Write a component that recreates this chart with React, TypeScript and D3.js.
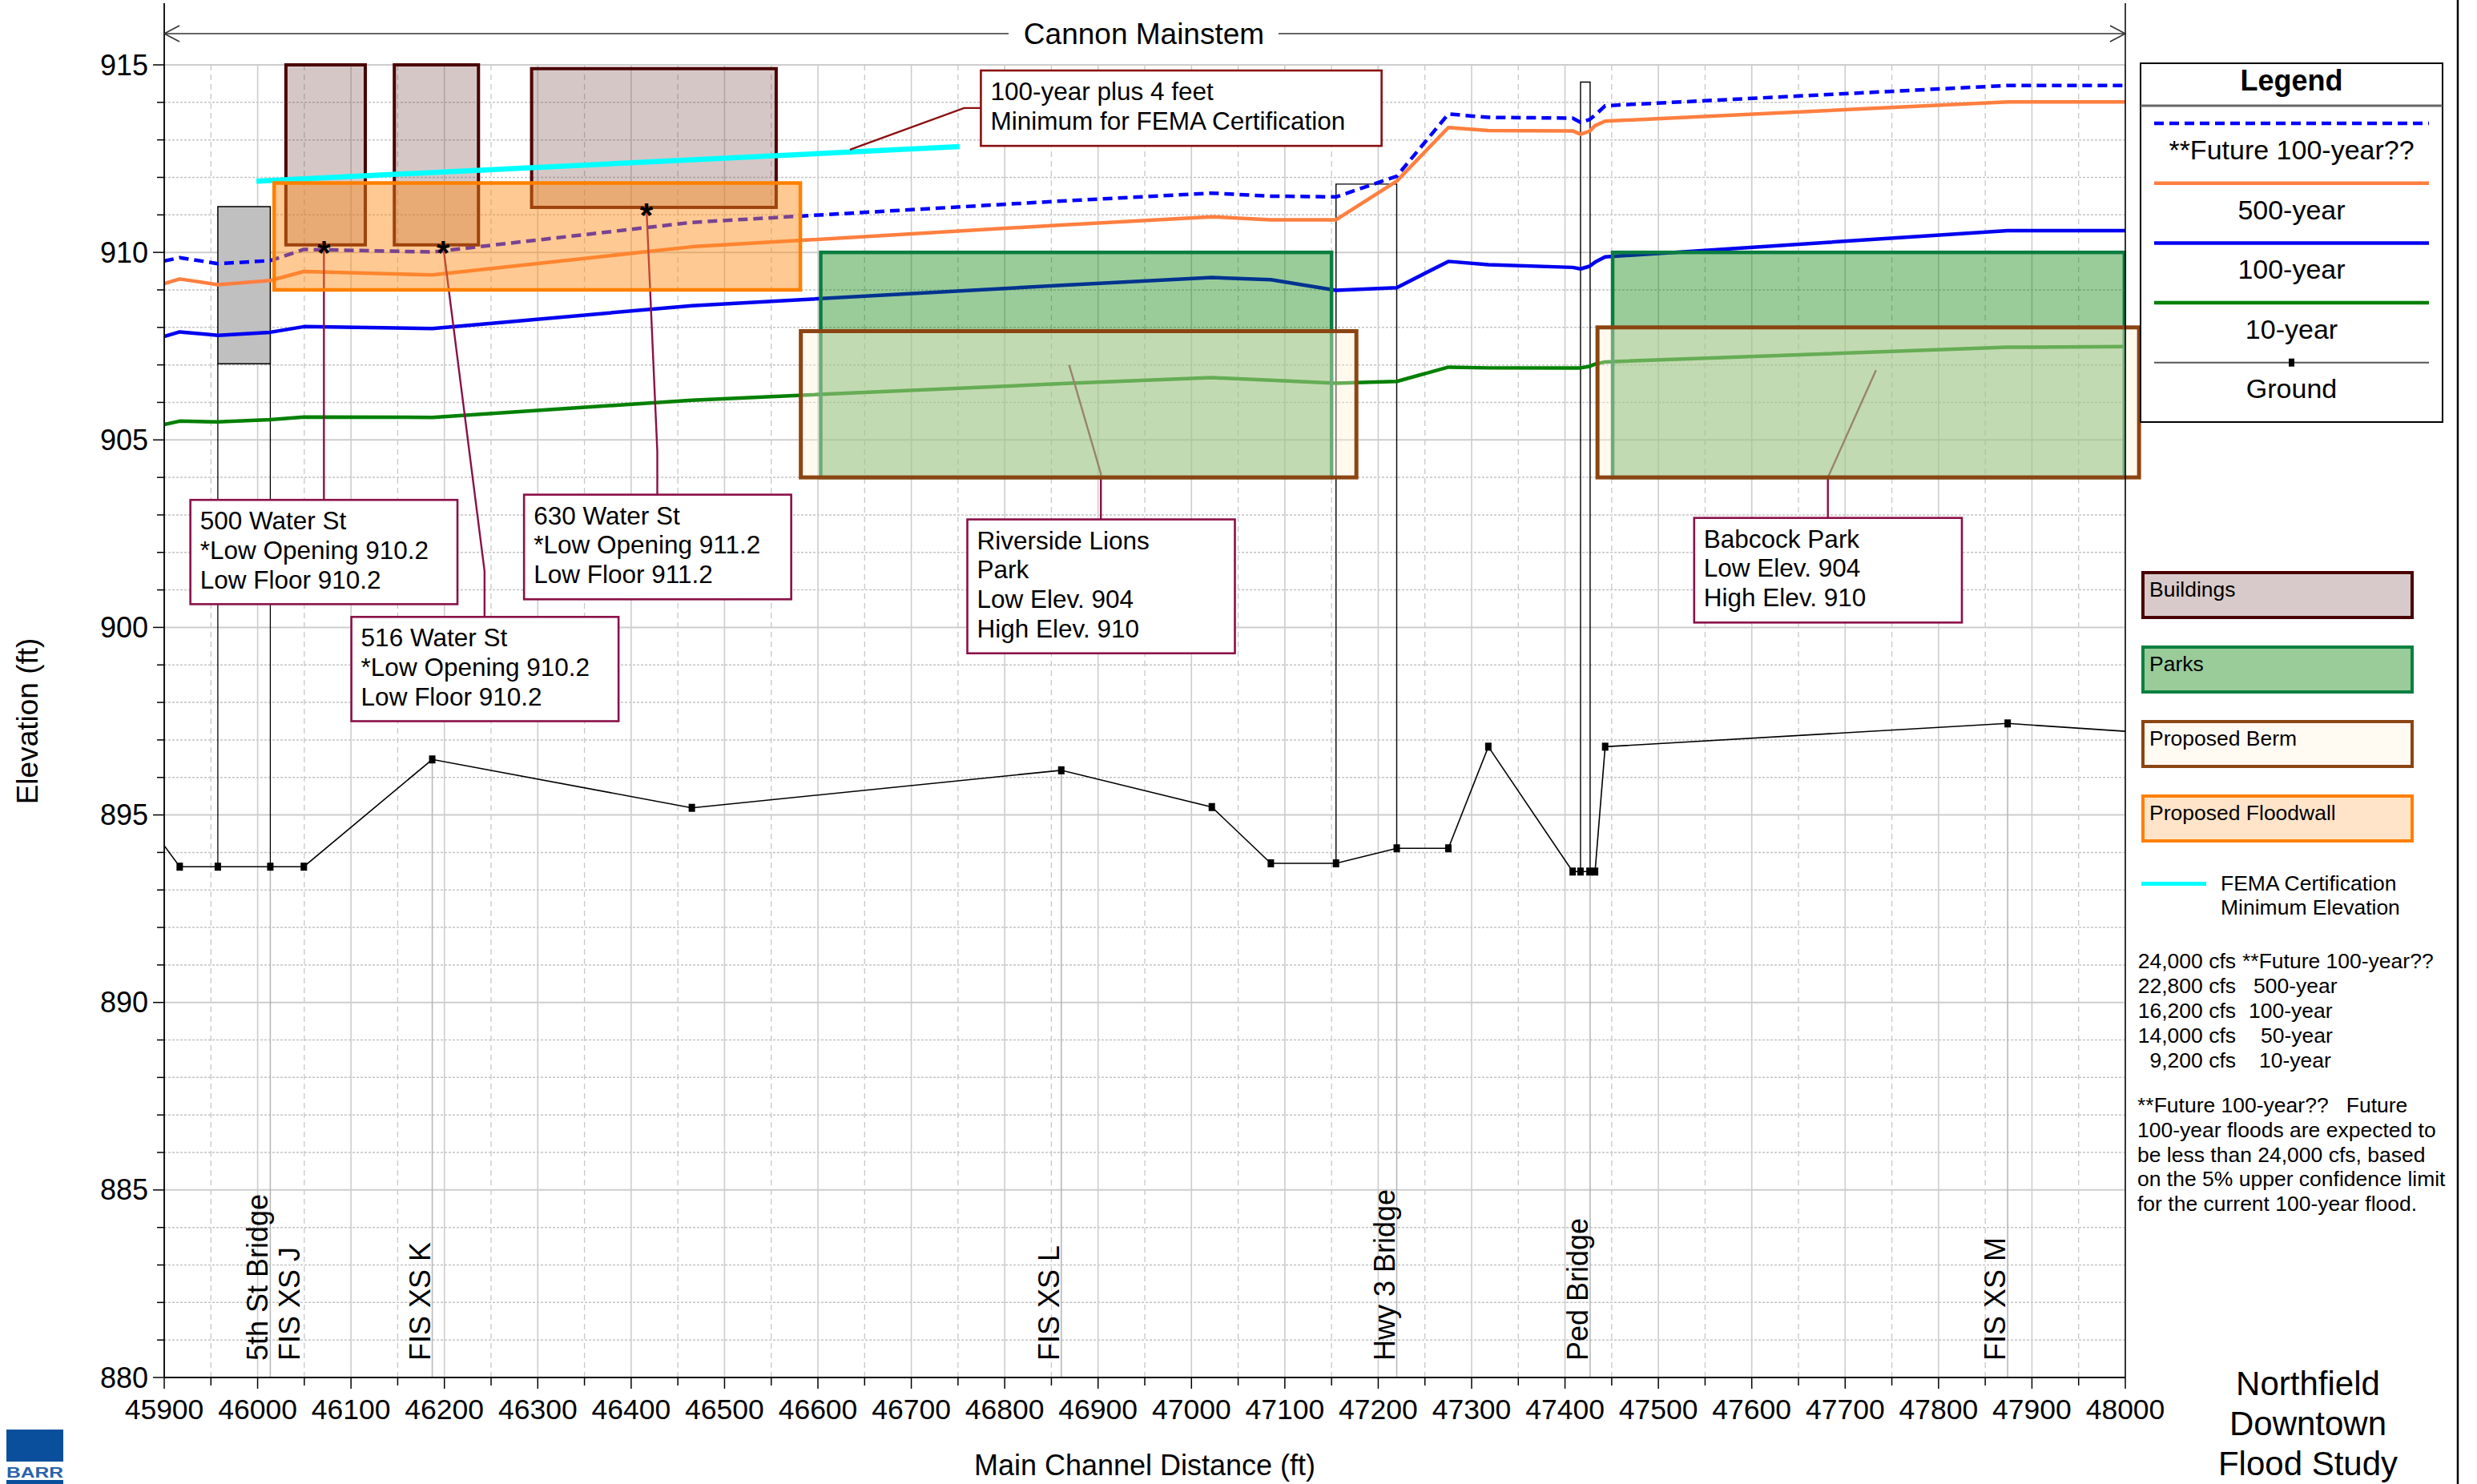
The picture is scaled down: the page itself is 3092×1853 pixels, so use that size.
import React from "react";
import * as d3 from "d3";

// ---- Profile data: river stations (ft) and water-surface / ground elevations (ft) ----
const stations = [45900, 45916.6, 45957.4, 46013.6, 46049.5, 46187, 46465, 46860.6, 47021.8, 47085, 47154.8, 47219.8, 47275.1, 47317.9, 47408.2, 47416.6, 47426.2, 47432.2, 47443, 47874, 48000];
const groundElev = [894.18, 893.62, 893.62, 893.62, 893.62, 896.48, 895.19, 896.19, 895.21, 893.71, 893.71, 894.11, 894.11, 896.82, 893.49, 893.49, 893.49, 893.49, 896.82, 897.44, 897.23];
const future100 = [909.77, 909.86, 909.7, 909.78, 910.08, 910.01, 910.8, 911.37, 911.58, 911.5, 911.48, 912.03, 913.69, 913.6, 913.58, 913.47, 913.54, 913.66, 913.91, 914.45, 914.45];
const year500 = [909.17, 909.29, 909.14, 909.25, 909.49, 909.4, 910.15, 910.73, 910.95, 910.87, 910.87, 911.9, 913.33, 913.25, 913.24, 913.15, 913.23, 913.38, 913.5, 914.01, 914.01];
const year100 = [907.76, 907.88, 907.79, 907.87, 908.02, 907.97, 908.58, 909.12, 909.33, 909.27, 908.99, 909.06, 909.76, 909.67, 909.6, 909.56, 909.63, 909.74, 909.88, 910.58, 910.58];
const year10 = [905.41, 905.5, 905.48, 905.54, 905.61, 905.6, 906.06, 906.5, 906.66, 906.59, 906.51, 906.56, 906.94, 906.92, 906.92, 906.92, 906.96, 907.02, 907.08, 907.47, 907.49];

// Axis ticks
const xMajorTicks = d3.range(45900, 48001, 100);
const xMinorTicks = d3.range(45950, 48000, 100);
const yMajorTicks = [880, 885, 890, 895, 900, 905, 910, 915];
const yMinorTicks = d3.range(880, 916, 1);

// Structures along the reach (station ft, elevation ft)
const bridgeNames = ["5th St Bridge", "Hwy 3 Bridge", "Ped Bridge"];
const bridgeLeft = [45957.4, 47154.8, 47416.6];
const bridgeRight = [46013.6, 47219.8, 47426.9];
const bridgeHighChord = [911.22, 911.82, 914.54];
const bridgeLowChord = [907.03, null, null];

const buildingNames = ["500 Water St", "516 Water St", "630 Water St"];
const buildingLeft = [46030.3, 46146.4, 46293.4];
const buildingRight = [46115.3, 46236.5, 46555.3];
const buildingTop = [915.0, 915.0, 914.9];
const buildingLowFloor = [910.2, 910.2, 911.2];
const buildingLowOpening = [910.2, 910.2, 911.2];
const buildingOpeningStation = [46071, 46198.6, 46416.4];

const parkNames = ["Riverside Lions Park", "Babcock Park"];
const parkLeft = [46603, 47451];
const parkRight = [47150, 47999];
const parkLow = [904, 904];
const parkHigh = [910, 910];

const bermLeft = [46581.7, 47434.8];
const bermRight = [47176.6, 48014.7];
const bermBottom = [904, 904];
const bermTop = [907.9, 908.0];

const floodwallStations = [46017.7, 46581.2];
const floodwallElev = [909.0, 911.85];

const femaStations = [45998.7, 46751.7];
const femaElev = [911.9, 912.82];

// Labelled cross sections
const xsStations = [46013.6, 46187, 46860.6, 47219.8, 47426.9, 47874];
const xsLabels = [["5th St Bridge", "FIS XS J"], ["FIS XS K"], ["FIS XS L"], ["Hwy 3 Bridge"], ["Ped Bridge"], ["FIS XS M"]];

// Callouts: box corners in (station, elevation) and leader polylines
const callouts = [
  { lines: ["500 Water St", "*Low Opening 910.2", "Low Floor 910.2"], x0: 45928, x1: 46214, top: 903.4, bottom: 900.62, color: "#8b1048",
    leader: [[46071, 910.2], [46071, 903.4]] },
  { lines: ["516 Water St", "*Low Opening 910.2", "Low Floor 910.2"], x0: 46100.4, x1: 46386.5, top: 900.28, bottom: 897.5, color: "#8b1048",
    leader: [[46198.6, 910.2], [46243, 901.5], [46243, 900.28]] },
  { lines: ["630 Water St", "*Low Opening 911.2", "Low Floor 911.2"], x0: 46285.3, x1: 46571.4, top: 903.54, bottom: 900.75, color: "#8b1048",
    leader: [[46416.4, 911.2], [46428, 904.7], [46428, 903.54]] },
  { lines: ["Riverside Lions", "Park", "Low Elev. 904", "High Elev. 910"], x0: 46760, x1: 47046.5, top: 902.88, bottom: 899.31, color: "#8b1048",
    leader: [[46869, 907.0], [46903, 904.1], [46903, 902.88]] },
  { lines: ["Babcock Park", "Low Elev. 904", "High Elev. 910"], x0: 47538.3, x1: 47825, top: 902.92, bottom: 900.13, color: "#8b1048",
    leader: [[47733, 906.86], [47681.5, 904.0], [47681.5, 902.92]] },
  { lines: ["100-year plus 4 feet", "Minimum for FEMA Certification"], x0: 46774.5, x1: 47203.6, top: 914.85, bottom: 912.84, color: "#8b0f0f",
    leader: [[46634.3, 912.74], [46756.5, 913.85], [46774.5, 913.85]] },
];

const flowRates = ["24,000 cfs", "22,800 cfs", "16,200 cfs", "14,000 cfs", "9,200 cfs"];
const flowEvents = ["**Future 100-year??", "500-year", "100-year", "50-year", "10-year"];
const noteLines = [
  "**Future 100-year??\u00a0\u00a0 Future",
  "100-year floods are expected to",
  "be less than 24,000 cfs, based",
  "on the 5% upper confidence limit",
  "for the current 100-year flood.",
];
const titleLines = ["Northfield", "Downtown", "Flood Study"];

const FONT = "'Liberation Sans', Arial, Helvetica, sans-serif";

type Pt = [number, number];

export default function App() {
  const W = 3092;
  const H = 1853;
  const x = d3.scaleLinear().domain([45900, 48000]).range([205, 2653]);
  const y = d3.scaleLinear().domain([880, 915]).range([1720, 81]);
  const frameTop = 4;
  const line = d3.line<Pt>().x((d) => x(d[0])).y((d) => y(d[1]));
  const zip = (vals: number[]): Pt[] => stations.map((s, i) => [s, vals[i]] as Pt);
  const groundAt = (s: number) => {
    const i = d3.bisectLeft(stations, s);
    if (i <= 0) return groundElev[0];
    if (i >= stations.length) return groundElev[groundElev.length - 1];
    if (stations[i] === s) return groundElev[i];
    const t = (s - stations[i - 1]) / (stations[i] - stations[i - 1]);
    return groundElev[i - 1] + t * (groundElev[i] - groundElev[i - 1]);
  };
  const box = (x0: number, x1: number, lo: number, hi: number) => ({
    x: x(x0), y: y(hi), width: x(x1) - x(x0), height: y(lo) - y(hi),
  });

  const series = [
    { name: "10-year", values: year10, color: "#008000", dash: undefined as string | undefined },
    { name: "100-year", values: year100, color: "#0000f0", dash: undefined },
    { name: "500-year", values: year500, color: "#ff7f40", dash: undefined },
    { name: "**Future 100-year??", values: future100, color: "#0000ff", dash: "12,7" },
  ];
  const legendOrder = [series[3], series[2], series[1], series[0]];

  const plotL = x(45900), plotR = x(48000), plotB = y(880), plotT = y(915);

  return (
    <svg width={W} height={H} viewBox={`0 0 ${W} ${H}`} style={{ position: "absolute", left: 0, top: 0, background: "#fff", display: "block" }} fontFamily={FONT}>
      <defs>
        <clipPath id="plotClip">
          <rect x={plotL} y={frameTop} width={plotR - plotL} height={plotB - frameTop} />
        </clipPath>
      </defs>
      <rect x={0} y={0} width={W} height={H} fill="#fff" />

      {/* grid */}
      <g>
        {yMinorTicks.filter((v) => v % 5 !== 0).map((v) => (
          <line key={"hy" + v} x1={plotL} x2={plotR} y1={y(v)} y2={y(v)} stroke="#c4c4c4" strokeWidth={1.5} strokeDasharray="3,2" />
        ))}
        {xMinorTicks.map((v) => (
          <line key={"vx" + v} x1={x(v)} x2={x(v)} y1={plotT} y2={plotB} stroke="#c8c8c8" strokeWidth={1.3} strokeDasharray="7,5" />
        ))}
        {xMajorTicks.map((v) => (
          <line key={"vX" + v} x1={x(v)} x2={x(v)} y1={plotT} y2={plotB} stroke="#cdcdcd" strokeWidth={1.6} />
        ))}
        {yMajorTicks.map((v) => (
          <line key={"hY" + v} x1={plotL} x2={plotR} y1={y(v)} y2={y(v)} stroke="#cdcdcd" strokeWidth={2} />
        ))}
      </g>

      {/* cross-section marker lines below ground */}
      {xsStations.map((s, i) => (
        <line key={"xsl" + i} x1={x(s)} x2={x(s)} y1={y(groundAt(s))} y2={plotB} stroke="#b4b4b4" strokeWidth={1.5} />
      ))}

      {/* bridges */}
      {bridgeNames.map((n, i) => {
        const gl = groundAt(bridgeLeft[i]);
        const gr = groundAt(bridgeRight[i]);
        const low = bridgeLowChord[i];
        if (low != null) {
          const r = box(bridgeLeft[i], bridgeRight[i], low, bridgeHighChord[i]);
          return (
            <g key={n}>
              <line x1={x(bridgeLeft[i])} x2={x(bridgeLeft[i])} y1={y(low)} y2={y(gl)} stroke="#000" strokeWidth={1.3} />
              <line x1={x(bridgeRight[i])} x2={x(bridgeRight[i])} y1={y(low)} y2={y(gr)} stroke="#000" strokeWidth={1.3} />
              <rect {...r} fill="#c0c0c0" stroke="#000" strokeWidth={1.5} />
            </g>
          );
        }
        const pts: Pt[] = [[bridgeLeft[i], gl], [bridgeLeft[i], bridgeHighChord[i]], [bridgeRight[i], bridgeHighChord[i]], [bridgeRight[i], gr]];
        return <path key={n} d={line(pts) || ""} fill="none" stroke="#000" strokeWidth={1.4} />;
      })}

      {/* ground profile */}
      <g clipPath="url(#plotClip)">
        <path d={line(zip(groundElev)) || ""} fill="none" stroke="#000" strokeWidth={1.6} />
        {stations.map((s, i) =>
          s > 45900 && s < 48000 ? (
            <rect key={"gm" + i} x={x(s) - 4} y={y(groundElev[i]) - 5} width={8} height={10} fill="#000" />
          ) : null
        )}
      </g>

      {/* water surface profiles */}
      <g clipPath="url(#plotClip)">
        {series.map((s) => (
          <path key={s.name} d={line(zip(s.values)) || ""} fill="none" stroke={s.color} strokeWidth={4.5} strokeDasharray={s.dash} strokeLinejoin="round" />
        ))}
      </g>

      {/* buildings */}
      {buildingNames.map((n, i) => (
        <rect key={n} {...box(buildingLeft[i], buildingRight[i], buildingLowFloor[i], buildingTop[i])} fill="rgba(120,70,70,0.3)" stroke="#4a0000" strokeWidth={4} />
      ))}

      {/* FEMA minimum line */}
      <path d={line(femaStations.map((s, i) => [s, femaElev[i]] as Pt)) || ""} stroke="#00ffff" strokeWidth={6.5} fill="none" />

      {/* callout leaders */}
      {callouts.map((c, i) => (
        <path key={"ld" + i} d={line(c.leader as Pt[]) || ""} fill="none" stroke={c.color} strokeWidth={2.4} />
      ))}

      {/* parks */}
      {parkNames.map((n, i) => (
        <rect key={n} {...box(parkLeft[i], parkRight[i], parkLow[i], parkHigh[i])} fill="rgba(0,128,0,0.4)" stroke="#0a7d41" strokeWidth={4.5} />
      ))}

      {/* proposed berms */}
      {bermLeft.map((b, i) => (
        <rect key={"berm" + i} {...box(b, bermRight[i], bermBottom[i], bermTop[i])} fill="rgba(255,240,212,0.4)" stroke="#8b4513" strokeWidth={5} />
      ))}

      {/* proposed floodwall */}
      <rect {...box(floodwallStations[0], floodwallStations[1], floodwallElev[0], floodwallElev[1])} fill="rgba(255,140,26,0.47)" stroke="#ff8000" strokeWidth={4.5} />

      {/* low-opening markers */}
      {buildingOpeningStation.map((s, i) => (
        <text key={"st" + i} x={x(s)} y={y(buildingLowOpening[i]) + 24} textAnchor="middle" fontSize={42} fontWeight="bold" fill="#000">*</text>
      ))}

      {/* callout boxes */}
      {callouts.map((c, i) => {
        const r = box(c.x0, c.x1, c.bottom, c.top);
        return (
          <g key={"cb" + i}>
            <rect {...r} fill="#fff" stroke={c.color} strokeWidth={2.6} />
            {c.lines.map((t, j) => (
              <text key={j} x={r.x + 12} y={r.y + 37 + j * 36.8} fontSize={31.5} fill="#000">{t}</text>
            ))}
          </g>
        );
      })}

      {/* cross-section labels */}
      {xsStations.map((s, i) => (
        <text key={"xst" + i} transform={`translate(${x(s) - 3},1699) rotate(-90)`} fontSize={36} fill="#000">
          {xsLabels[i].map((t, j) => (
            <tspan key={j} x={0} y={j * 40}>{t}</tspan>
          ))}
        </text>
      ))}

      {/* axes */}
      <line x1={plotL} x2={plotL} y1={frameTop} y2={plotB} stroke="#000" strokeWidth={1.8} />
      <line x1={plotR} x2={plotR} y1={frameTop} y2={plotB} stroke="#000" strokeWidth={1.5} />
      <line x1={plotL} x2={plotR} y1={plotB} y2={plotB} stroke="#000" strokeWidth={2} />
      {yMinorTicks.map((v) => (
        <line key={"yt" + v} x1={plotL - (v % 5 === 0 ? 14 : 9)} x2={plotL} y1={y(v)} y2={y(v)} stroke="#000" strokeWidth={1.5} />
      ))}
      {yMajorTicks.map((v) => (
        <text key={"yl" + v} x={plotL - 20} y={y(v) + 12.5} textAnchor="end" fontSize={36} fill="#000">{v}</text>
      ))}
      {xMinorTicks.map((v) => (
        <line key={"xt" + v} x1={x(v)} x2={x(v)} y1={plotB} y2={plotB + 10} stroke="#000" strokeWidth={1.5} />
      ))}
      {xMajorTicks.map((v) => (
        <g key={"xl" + v}>
          <line x1={x(v)} x2={x(v)} y1={plotB} y2={plotB + 14} stroke="#000" strokeWidth={1.5} />
          <text x={x(v)} y={1772} textAnchor="middle" fontSize={35.5} fill="#000">{v}</text>
        </g>
      ))}
      <text x={(plotL + plotR) / 2} y={1842} textAnchor="middle" fontSize={36} fill="#000">Main Channel Distance (ft)</text>
      <text transform={`translate(47,${(plotT + plotB) / 2}) rotate(-90)`} textAnchor="middle" fontSize={37} fill="#000">Elevation (ft)</text>

      {/* reach annotation */}
      <g stroke="#333" strokeWidth={1.6} fill="none">
        <line x1={plotL} x2={1259} y1={42} y2={42} />
        <line x1={1596} x2={plotR} y1={42} y2={42} />
        <path d={`M${plotL + 19},32 L${plotL},42 L${plotL + 19},52`} />
        <path d={`M${plotR - 19},32 L${plotR},42 L${plotR - 19},52`} />
      </g>
      <text x={1428} y={55} textAnchor="middle" fontSize={37} fill="#000">Cannon Mainstem</text>

      {/* legend */}
      <rect x={2672} y={79} width={377} height={448} fill="#fff" stroke="#000" strokeWidth={2} />
      <text x={2860.5} y={113} textAnchor="middle" fontSize={36} fontWeight="bold" fill="#000">Legend</text>
      <line x1={2672} x2={3049} y1={132} y2={132} stroke="#666" strokeWidth={3} />
      {legendOrder.map((s, i) => {
        const ly = 154 + i * 74.7;
        return (
          <g key={"lg" + i}>
            <line x1={2689} x2={3032} y1={ly} y2={ly} stroke={s.color} strokeWidth={4.5} strokeDasharray={s.dash} />
            <text x={2860.5} y={ly + 45} textAnchor="middle" fontSize={34} fill="#000">{s.name}</text>
          </g>
        );
      })}
      <line x1={2689} x2={3032} y1={452.7} y2={452.7} stroke="#555" strokeWidth={2} />
      <rect x={2857} y={447.7} width={7} height={10} fill="#000" />
      <text x={2860.5} y={497} textAnchor="middle" fontSize={34} fill="#000">Ground</text>

      {/* area swatches */}
      {[
        { label: "Buildings", fill: "#d8caca", stroke: "#4a0000", y: 715 },
        { label: "Parks", fill: "#99cc99", stroke: "#0a8040", y: 808 },
        { label: "Proposed Berm", fill: "#fffaf2", stroke: "#8b4513", y: 901 },
        { label: "Proposed Floodwall", fill: "#ffe4c9", stroke: "#ff8000", y: 994 },
      ].map((s) => (
        <g key={s.label}>
          <rect x={2675} y={s.y} width={336} height={56} fill={s.fill} stroke={s.stroke} strokeWidth={4} />
          <text x={2683} y={s.y + 30} fontSize={26.5} fill="#000">{s.label}</text>
        </g>
      ))}
      <line x1={2673} x2={2754} y1={1103.6} y2={1103.6} stroke="#00ffff" strokeWidth={5} />
      <text x={2772} y={1112} fontSize={26.5} fill="#000">FEMA Certification</text>
      <text x={2772} y={1142} fontSize={26.5} fill="#000">Minimum Elevation</text>

      {/* discharges */}
      {flowRates.map((f, i) => (
        <g key={"fr" + i}>
          <text x={2791} y={1209 + i * 31} textAnchor="end" fontSize={26.5} fill="#000">{f}</text>
          <text x={[2799, 2813, 2807, 2822, 2820][i]} y={1209 + i * 31} fontSize={26.5} fill="#000">{flowEvents[i]}</text>
        </g>
      ))}
      {noteLines.map((t, i) => (
        <text key={"nt" + i} x={2668} y={1389 + i * 30.8} fontSize={26.5} fill="#000">{t}</text>
      ))}

      {/* title block */}
      {titleLines.map((t, i) => (
        <text key={"tt" + i} x={2881} y={1742 + i * 50} textAnchor="middle" fontSize={42} fill="#000">{t}</text>
      ))}
      <line x1={3068} x2={3068} y1={0} y2={H} stroke="#000" strokeWidth={2.5} />

      {/* logo */}
      <rect x={8} y={1785} width={71} height={40} fill="#0a4f9c" />
      <text x={8} y={1845} fontSize={18} fontWeight="bold" fill="#2a62aa" textLength={71} lengthAdjust="spacingAndGlyphs">BARR</text>
      <rect x={8} y={1848} width={71} height={5} fill="#0a4f9c" />
    </svg>
  );
}
